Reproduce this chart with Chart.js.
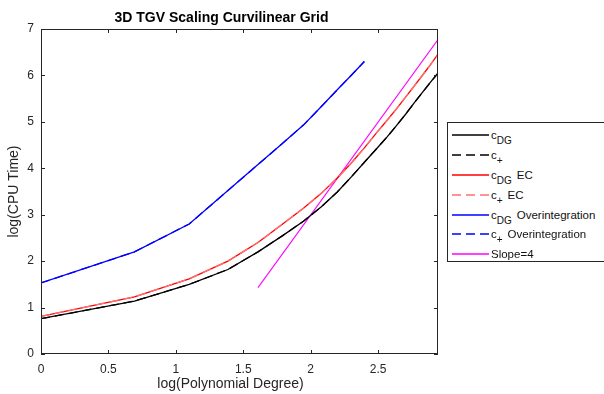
<!DOCTYPE html>
<html><head><meta charset="UTF-8"><title>3D TGV Scaling Curvilinear Grid</title>
<script src="https://cdn.jsdelivr.net/npm/chart.js"></script>
<style>
    body { margin: 0; background: #fff; overflow: hidden; font-family: 'Liberation Sans', Arial, sans-serif; }
    #wrap { position: relative; width: 604px; height: 394px; }
    #legend { position: absolute; left: 447px; top: 122px; width: 175px; height: 140px; border: 1px solid #262626; background: #fff; box-sizing: border-box; }
    .row { position: absolute; left: 0; height: 20px; display: flex; align-items: center; font-size: 11.5px; color: #111; }
    .row svg { margin-left: 4px; margin-right: 2px; }
    .row sub { font-size: 10px; vertical-align: -5px; line-height: 0; }
    .row .sp { margin-left: 5px; }
</style></head><body>
<div id="wrap">
    <canvas id="c" width="604" height="394"></canvas>
    <div id="legend"></div>
</div>
<script>
// log(p) for p = 1..19
const logP = [0, 0.693, 1.099, 1.386, 1.609, 1.792, 1.946, 2.079, 2.197, 2.303, 2.398, 2.485, 2.565, 2.639, 2.708, 2.773, 2.833, 2.890, 2.944];
const cDG     = [0.76, 1.14, 1.50, 1.82, 2.20, 2.55, 2.86, 3.17, 3.49, 3.82, 4.13, 4.41, 4.67, 4.93, 5.18, 5.43, 5.65, 5.86, 6.05];
const cPlus   = [0.76, 1.14, 1.50, 1.82, 2.20, 2.55, 2.86, 3.17, 3.49, 3.82, 4.13, 4.41, 4.67, 4.93, 5.18, 5.43, 5.65, 5.86, 6.05];
const cDGEC   = [0.81, 1.23, 1.62, 2.00, 2.40, 2.80, 3.14, 3.46, 3.79, 4.12, 4.44, 4.75, 5.03, 5.29, 5.55, 5.79, 6.02, 6.24, 6.46];
const cPlusEC = [0.81, 1.23, 1.62, 2.00, 2.40, 2.80, 3.14, 3.46, 3.79, 4.12, 4.44, 4.75, 5.03, 5.29, 5.55, 5.79, 6.02, 6.24, 6.46];
// overintegration only run up to p = 11
const cDGOver   = [1.53, 2.20, 2.80, 3.52, 4.08, 4.54, 4.93, 5.33, 5.69, 6.01, 6.30];
const cPlusOver = [1.53, 2.20, 2.80, 3.52, 4.08, 4.54, 4.93, 5.33, 5.69, 6.01, 6.30];
const slopeX = [1.609, 2.944];
const slopeY = [1.43, 6.77];

const xTicks = [0, 0.5, 1, 1.5, 2, 2.5];
const yTicks = [0, 1, 2, 3, 4, 5, 6, 7];

const AX = '#262626';
const FONT = "'Liberation Sans', Arial, sans-serif";

function pts(xs, ys) { return ys.map((y, i) => ({ x: xs[i], y })); }

const legendItems = [
    { html: 'c<sub>DG</sub>', color: '#000', dash: '' },
    { html: 'c<sub>+</sub>', color: '#000', dash: '9 5' },
    { html: 'c<sub>DG</sub><span class="sp">EC</span>', color: '#ff0000', dash: '' },
    { html: 'c<sub>+</sub><span class="sp">EC</span>', color: '#ff7070', dash: '9 5' },
    { html: 'c<sub>DG</sub><span class="sp">Overintegration</span>', color: '#0000ff', dash: '' },
    { html: 'c<sub>+</sub><span class="sp">Overintegration</span>', color: '#0000ff', dash: '9 5' },
    { html: 'Slope=4', color: '#ff40ff', dash: '', w: 2 }
];
const rowTops = [2, 22, 42, 62, 82, 101, 121];

document.getElementById('legend').innerHTML = legendItems.map((it, i) =>
    `<div class="row" style="top:${rowTops[i]}px"><svg width="37" height="4"><line x1="0" y1="2" x2="37" y2="2" stroke="${it.color}" stroke-width="${it.w || 1.3}" ${it.dash ? `stroke-dasharray="${it.dash}"` : ''}/></svg><span>${it.html}</span></div>`
).join('');

const frame = {
    id: 'frame',
    afterDraw(chart) {
        const { ctx, chartArea: a, scales: { x, y } } = chart;
        ctx.save();
        ctx.strokeStyle = AX; ctx.lineWidth = 1;
        ctx.strokeRect(a.left + 0.5, a.top + 0.5, a.right - a.left - 1, a.bottom - a.top - 1);
        ctx.beginPath();
        xTicks.forEach(v => {
            const px = Math.round(x.getPixelForValue(v)) + 0.5;
            ctx.moveTo(px, a.bottom); ctx.lineTo(px, a.bottom - 4);
            ctx.moveTo(px, a.top); ctx.lineTo(px, a.top + 4);
        });
        yTicks.forEach(v => {
            const py = Math.round(y.getPixelForValue(v)) + 0.5;
            ctx.moveTo(a.left, py); ctx.lineTo(a.left + 4, py);
            ctx.moveTo(a.right, py); ctx.lineTo(a.right - 4, py);
        });
        ctx.stroke();
        // title + axis labels (matlab puts them a bit left of the axes centre)
        const cy = (a.top + a.bottom) / 2;
        ctx.fillStyle = '#000'; ctx.textAlign = 'center'; ctx.textBaseline = 'middle';
        ctx.font = 'bold 14px ' + FONT;
        ctx.fillText('3D TGV Scaling Curvilinear Grid', 221.5, 18);
        ctx.fillStyle = AX; ctx.font = '14px ' + FONT;
        ctx.fillText('log(Polynomial Degree)', 230.5, 384);
        ctx.translate(14, cy); ctx.rotate(-Math.PI / 2);
        ctx.fillText('log(CPU Time)', 0, 0);
        ctx.restore();
    }
};

const ds = (label, data, color, dash, w) => ({ label, data, borderColor: color, borderDash: dash || [], borderWidth: w || 1.3, pointRadius: 0, fill: false, tension: 0 });

new Chart(document.getElementById('c'), {
    type: 'line',
    data: {
        datasets: [
            ds('c+', pts(logP, cPlus), '#000000', [9, 5]),
            ds('c+ EC', pts(logP, cPlusEC), '#ff7070', [9, 5]),
            ds('c+ Overintegration', pts(logP, cPlusOver), '#0000ff', [9, 5]),
            ds('cDG', pts(logP, cDG), '#000000'),
            ds('cDG EC', pts(logP, cDGEC), '#ff0000'),
            ds('cDG Overintegration', pts(logP, cDGOver), '#0000ff'),
            ds('Slope=4', pts(slopeX, slopeY), '#ff00ff', null, 1.1)
        ]
    },
    options: {
        responsive: false, animation: false,
        layout: { padding: { top: 29, right: 166, left: 0, bottom: 0 } },
        plugins: { legend: { display: false }, tooltip: { enabled: false }, title: { display: false } },
        scales: {
            x: {
                type: 'linear', min: 0, max: 2.944,
                afterBuildTicks: s => { s.ticks = xTicks.map(v => ({ value: v })); },
                afterFit: s => { s.height = 40; },
                grid: { display: false, drawTicks: false }, border: { display: false },
                ticks: { padding: 8, color: AX, font: { family: FONT, size: 12 }, maxRotation: 0, callback: v => String(v) }
            },
            y: {
                type: 'linear', min: 0, max: 7,
                afterBuildTicks: s => { s.ticks = yTicks.map(v => ({ value: v })); },
                afterFit: s => { s.width = 41; },
                grid: { display: false, drawTicks: false }, border: { display: false },
                ticks: { padding: 7, color: AX, font: { family: FONT, size: 12 } }
            }
        }
    },
    plugins: [frame]
});
</script></body></html>
